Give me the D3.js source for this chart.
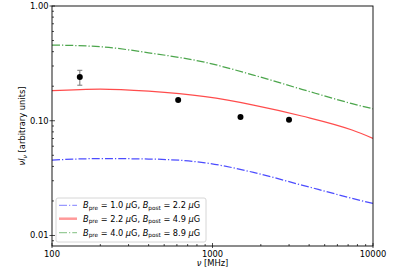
<!DOCTYPE html>
<html><head><meta charset="utf-8">
<script src="https://cdn.jsdelivr.net/npm/d3@7"></script>
<style>
body{margin:0;background:#fff;}
svg text{font-family:"DejaVu Sans",sans-serif;fill:#000;}
</style></head>
<body><svg id="c" width="415" height="273"></svg>
<script>
const freqs = [100, 200, 400, 900, 1800, 3600, 7400, 10000];
const lowB  = [0.0454, 0.0468, 0.0464, 0.0430, 0.0355, 0.0275, 0.0211, 0.0190];
const midB  = [0.183, 0.189, 0.181, 0.162, 0.137, 0.110, 0.083, 0.0703];
const highB = [0.457, 0.442, 0.391, 0.323, 0.250, 0.188, 0.141, 0.127];
const obsFreq = [149, 611, 1494, 2997];
const obsVal  = [0.240, 0.152, 0.108, 0.102];
const obsLo   = [0.204, null, null, null];
const obsHi   = [0.275, null, null, null];
const xTicks = [100, 1000, 10000];
const xTickLabels = ["100", "1000", "10000"];
const yTicks = [1, 0.1, 0.01];
const yTickLabels = ["1.00", "0.10", "0.01"];
const legendPre = ["1.0", "2.2", "4.0"];
const legendPost = ["2.2", "4.9", "8.9"];

const svg = d3.select("#c");
const L = 52, R = 373, T = 6, B = 246;
const x = d3.scaleLog().domain([100, 10000]).range([L, R]);
const y = d3.scaleLog().domain([0.0081, 1]).range([B, T]);

const series = [
  {vals: lowB, color: "#0000ff", dash: "8,2,1.25,2"},
  {vals: midB, color: "#ff0000", dash: null},
  {vals: highB, color: "#008000", dash: "8,2,1.25,2"}
];

svg.append("clipPath").attr("id","pc").append("rect")
  .attr("x",L).attr("y",T).attr("width",R-L).attr("height",B-T);

const line = d3.line().x(d=>x(d[0])).y(d=>y(d[1])).curve(d3.curveMonotoneX);
const g = svg.append("g").attr("clip-path","url(#pc)");
series.forEach(s=>{
  g.append("path").attr("d", line(freqs.map((f,i)=>[f,s.vals[i]])))
   .attr("fill","none").attr("stroke",s.color).attr("stroke-opacity",0.7)
   .attr("stroke-width",1.25).attr("stroke-dasharray",s.dash);
});

// error bars
obsFreq.forEach((f,i)=>{
  if(obsLo[i]==null) return;
  const cx = x(f);
  g.append("line").attr("x1",cx).attr("x2",cx).attr("y1",y(obsLo[i])).attr("y2",y(obsHi[i]))
    .attr("stroke","#808080").attr("stroke-width",1.1);
  [obsLo[i],obsHi[i]].forEach(v=>g.append("line").attr("x1",cx-2.5).attr("x2",cx+2.5)
    .attr("y1",y(v)).attr("y2",y(v)).attr("stroke","#808080").attr("stroke-width",1.1));
});
g.selectAll("circle.obs").data(obsFreq).join("circle").attr("class","obs")
  .attr("cx",d=>x(d)).attr("cy",(d,i)=>y(obsVal[i])).attr("r",3).attr("fill","#000");

// axes frame
svg.append("rect").attr("x",L).attr("y",T).attr("width",R-L).attr("height",B-T)
  .attr("fill","none").attr("stroke","#000").attr("stroke-width",0.9);

// ticks
const xMinor = [], yMinor = [];
[100,1000].forEach(d=>{for(let k=2;k<10;k++) xMinor.push(d*k);});
[0.001,0.01,0.1].forEach(d=>{for(let k=2;k<10;k++){const v=d*k; if(v>=0.0081&&v<=1) yMinor.push(v);}});

const tk = svg.append("g").attr("stroke","#000").attr("stroke-width",0.7);
xTicks.forEach(v=>tk.append("line").attr("x1",x(v)).attr("x2",x(v)).attr("y1",B-3).attr("y2",B+2));
xMinor.forEach(v=>tk.append("line").attr("x1",x(v)).attr("x2",x(v)).attr("y1",B-2).attr("y2",B));
yTicks.forEach(v=>tk.append("line").attr("x1",L-2.5).attr("x2",L+3).attr("y1",y(v)).attr("y2",y(v)));
yMinor.forEach(v=>tk.append("line").attr("x1",L).attr("x2",L+2).attr("y1",y(v)).attr("y2",y(v)));

svg.selectAll("text.xt").data(xTicks).join("text").attr("class","xt")
  .attr("x",d=>x(d)).attr("y",B+10.5).attr("text-anchor","middle").attr("font-size",8.33)
  .text((d,i)=>xTickLabels[i]);
svg.selectAll("text.yt").data(yTicks).join("text").attr("class","yt")
  .attr("x",L-3.5).attr("y",d=>y(d)+3).attr("text-anchor","end").attr("font-size",8.33)
  .text((d,i)=>yTickLabels[i]);

// axis labels
const xl = svg.append("text").attr("x",(L+R)/2).attr("y",266).attr("text-anchor","middle").attr("font-size",8.33);
xl.append("tspan").attr("font-style","italic").text("ν");
xl.append("tspan").text(" [MHz]");
const yl = svg.append("text").attr("transform",`translate(25,${(T+B)/2}) rotate(-90)`)
  .attr("text-anchor","middle").attr("font-size",8.33);
yl.append("tspan").attr("font-style","italic").text("νI");
yl.append("tspan").attr("font-style","italic").attr("font-size",6).attr("dy",1.8).text("ν");
yl.append("tspan").attr("dy",-1.8).text(" [arbitrary units]");

// legend
const lg = svg.append("g");
lg.append("rect").attr("x",56).attr("y",198).attr("width",150).attr("height",44).attr("rx",2)
  .attr("fill","#fff").attr("fill-opacity",0.8).attr("stroke","#cccccc").attr("stroke-width",0.8);
const rowsY = [205.3, 218.7, 232.7];
series.forEach((s,i)=>{
  lg.append("line").attr("x1",59).attr("x2",77).attr("y1",rowsY[i]).attr("y2",rowsY[i])
    .attr("stroke",s.color).attr("stroke-opacity",0.4).attr("stroke-width", s.dash?1.25:2.5)
    .attr("stroke-dasharray",s.dash);
  const t = lg.append("text").attr("x",83).attr("y",rowsY[i]+3).attr("font-size",8.2);
  t.append("tspan").attr("font-style","italic").text("B");
  t.append("tspan").attr("font-size",5.8).attr("dy",1.6).text("pre");
  t.append("tspan").attr("dy",-1.6).text(" = " + legendPre[i] + " ");
  t.append("tspan").attr("font-style","italic").text("μ");
  t.append("tspan").text("G, ");
  t.append("tspan").attr("font-style","italic").text("B");
  t.append("tspan").attr("font-size",5.8).attr("dy",1.6).text("post");
  t.append("tspan").attr("dy",-1.6).text(" = " + legendPost[i] + " ");
  t.append("tspan").attr("font-style","italic").text("μ");
  t.append("tspan").text("G");
});
</script></body></html>
